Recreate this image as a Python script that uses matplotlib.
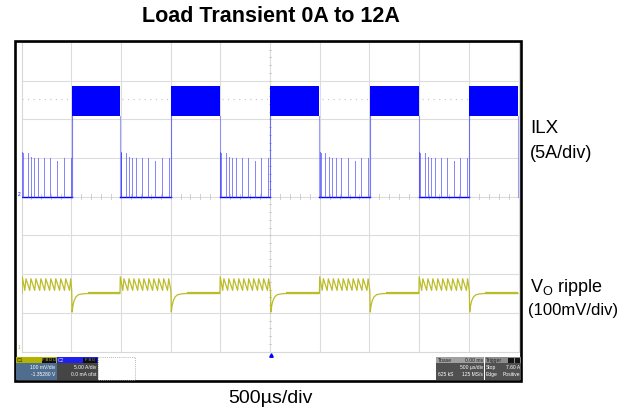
import numpy as np
import matplotlib
matplotlib.use('Agg')
import matplotlib.pyplot as plt
from matplotlib.patches import Rectangle

plt.rcParams['font.family'] = ['Liberation Sans', 'DejaVu Sans']

# ---------------- data ----------------
title = "Load Transient 0A to 12A"
time_label = "500µs/div"
time_per_div_us = 500
n_hdiv, n_vdiv = 10, 8

# load steps (µs, screen centre = 0)
load_rise_us = [-1995, -997, 5, 1004, 2005]
load_fall_us = [-2495, -1509, -504, 497, 1498, 2495]

# inductor current ILX (5 A/div, 0 A at screen centre)
ilx_a_per_div = 5.0
ilx_band_high_a = 14.3
ilx_band_low_a = 10.4
ilx_ref_level_a = 12.6
pulse_offsets_us = [5, 15, 58, 92, 125, 162, 218, 285, 355, 418, 488]
pulse_peaks_a = [5.8, 5.7, 5.6, 5.1, 5.0, 5.0, 5.0, 5.0, 4.6, 5.0, 5.0]

# output ripple Vo (100 mV/div, trace offset -2.5 div)
vo_mv_per_div = 100.0
vo_offset_div = -2.5
tooth_offsets_us = [0, 28, 78, 128, 178, 228, 278, 328, 378, 428, 478]
tooth_peak_mv = 38.0
tooth_trough_mv = 8.0
release_spike_mv = 43.0
recovery_offsets_us = [0, 4, 12, 25, 45, 70, 110, 160]
recovery_mv = [8, -48, -32, -18, -8, -3, -1, 0]

# status bar texts
c1_lines = ["100 mV/div", "-1.35280 V"]
c2_lines = ["5.00 A/div", "0.0 mA ofst"]
tb_lines = [("Tbase", "0.00 ms"), ("", "500 µs/div"), ("625 kS", "125 MS/s")]
trig_lines = [("Trigger", ""), ("Stop", "7.60 A"), ("Edge", "Positive")]

# ---------------- figure ----------------
W, H = 628, 415
fig = plt.figure(figsize=(W / 100, H / 100), dpi=100)

# screen geometry in pixels
sx0, sx1, sy0, sy1 = 21.5, 518.5, 42.0, 351.5
ax = fig.add_axes([sx0 / W, 1 - sy1 / H, (sx1 - sx0) / W, (sy1 - sy0) / H])
half_t = n_hdiv / 2 * time_per_div_us
ax.set_xlim(-half_t, half_t)
ax.set_ylim(-n_vdiv / 2, n_vdiv / 2)
ax.set_xticks([]); ax.set_yticks([])
for s in ax.spines.values():
    s.set_color('#d8d8d8'); s.set_linewidth(0.8)

gcol = '#dcdcdc'
for k in range(1, n_hdiv):
    ax.axvline(-half_t + k * time_per_div_us, color=gcol, lw=0.8, zorder=0)
for k in range(1, n_vdiv):
    ax.axhline(-n_vdiv / 2 + k, color=gcol, lw=0.8, zorder=0)
# minor ticks on centre lines
for t in np.arange(-half_t, half_t + 1, time_per_div_us / 5):
    ax.plot([t, t], [-0.06, 0.06], color='#c8c8c8', lw=0.6, zorder=0)
for v in np.arange(-n_vdiv / 2, n_vdiv / 2 + 0.01, 0.2):
    ax.plot([-15, 15], [v, v], color='#c8c8c8', lw=0.6, zorder=0)
# reference dotted level
ax.axhline(ilx_ref_level_a / ilx_a_per_div, color='#c4c4c4', lw=0.8,
           linestyle=(0, (1, 4)), zorder=0)

blue = '#0000ff'
# ---- ILX trace ----
for i, tr in enumerate(load_rise_us):
    tf = load_fall_us[i]
    # low-load region: baseline + PFM pulses
    ax.plot([max(tf, -half_t), tr], [0, 0], color=blue, lw=1.0, zorder=3)
    for off, pk in zip(pulse_offsets_us, pulse_peaks_a):
        tp = tf + off
        if tp < tr:
            ax.plot([tp, tp], [0, pk / ilx_a_per_div], color='#3030ff',
                    lw=0.7, alpha=0.6, zorder=3)
    # high-load region: ripple band
    tf2 = load_fall_us[i + 1]
    ax.fill_between([tr, tf2], [ilx_band_low_a / ilx_a_per_div] * 2,
                    [ilx_band_high_a / ilx_a_per_div] * 2, color=blue,
                    lw=0, zorder=3)
    ax.plot([tr, tr], [0, ilx_band_low_a / ilx_a_per_div], color='#4040ff',
            lw=0.8, alpha=0.7, zorder=3)
    ax.plot([tf2, tf2], [0, ilx_band_low_a / ilx_a_per_div], color='#6060ff',
            lw=0.8, alpha=0.6, zorder=3)

# ---- Vo trace ----
ycol = '#bcbc2a'
vt, vv = [], []
flat_segs = []
for i, tr in enumerate(load_rise_us):
    tf = load_fall_us[i]
    vt += [tf, tf + 3]
    vv += [0, release_spike_mv]
    for off in tooth_offsets_us[1:]:
        if tf + off + 12 < tr:
            vt += [tf + off, tf + off + 12]
            vv += [tooth_trough_mv, tooth_peak_mv]
    for off, mv in zip(recovery_offsets_us, recovery_mv):
        vt.append(tr + off); vv.append(mv)
    tf2 = load_fall_us[i + 1]
    vt.append(tf2); vv.append(0)
    flat_segs.append((tr + recovery_offsets_us[-1], tf2))
vt = np.array(vt, float)
vv = np.array(vv, float) / vo_mv_per_div + vo_offset_div
m = vt >= -half_t
ax.plot(vt[m], vv[m], color=ycol, lw=0.9, zorder=4)
for a, b in flat_segs:
    ax.plot([a, b], [vo_offset_div, vo_offset_div], color=ycol, lw=1.6,
            zorder=4, solid_capstyle='butt')

# ---------------- overlay (frame, labels, status bar) ----------------
ov = fig.add_axes([0, 0, 1, 1], zorder=5)
ov.set_xlim(0, W); ov.set_ylim(H, 0)
ov.axis('off')
ov.patch.set_alpha(0)

ov.add_patch(Rectangle((15, 41), 506, 340, fill=False, ec='black', lw=1.9))

ov.text(271, 17, title, ha='center', va='center', fontsize=15.5,
        fontweight='bold')
ov.text(270, 398, time_label, ha='center', va='center', fontsize=14)
ov.text(530, 128, "ILX", ha='left', va='center', fontsize=13.5)
ov.text(530, 153, "(5A/div)", ha='left', va='center', fontsize=13)
ov.text(530, 287, r"V$_\mathregular{O}$ ripple", ha='left', va='center',
        fontsize=13)
ov.text(528, 310, "(100mV/div)", ha='left', va='center', fontsize=12)

# trigger marker and channel markers
ov.plot([270.5], [354.5], marker='^', ms=2.5, color=blue, mec=blue)
ov.text(19, 194.5, "2", color=blue, fontsize=3.5, ha='center', va='center')
ov.text(18.5, 347, "1", color=ycol, fontsize=3.5, ha='center', va='center')

fs = 3.6
# C1 block
ov.add_patch(Rectangle((16, 357), 40.5, 6, color='#b2b200', lw=0))
ov.text(17, 360, "C1", fontsize=fs, color='#202000', va='center')
ov.add_patch(Rectangle((42, 357.5), 14, 5, color='#101010', lw=0))
ov.text(49, 360, "F B D U", fontsize=2.8, color='#c8c850', va='center', ha='center')
ov.add_patch(Rectangle((16, 363), 40.5, 16.5, color='#4e6d8f', lw=0))
for k, s in enumerate(c1_lines):
    ov.text(55.5, 367.3 + 7 * k, s, fontsize=fs, color='white', ha='right', va='center')
# C2 block
ov.add_patch(Rectangle((57, 357), 40.5, 6, color='#2020f0', lw=0))
ov.text(58, 360, "C2", fontsize=fs, color='#d0d0ff', va='center')
ov.add_patch(Rectangle((83, 357.5), 14, 5, color='#101010', lw=0))
ov.text(90, 360, "F B D", fontsize=2.8, color='#8080ff', va='center', ha='center')
ov.add_patch(Rectangle((57, 363), 40.5, 16.5, color='#454545', lw=0))
for k, s in enumerate(c2_lines):
    ov.text(96.5, 367.3 + 7 * k, s, fontsize=fs, color='white', ha='right', va='center')
# empty dotted box
ov.add_patch(Rectangle((98, 357), 37, 22.5, fill=False, ec='#9a9a9a', lw=0.6,
                       linestyle=(0, (1, 1.5))))
# timebase / trigger block
ov.add_patch(Rectangle((436, 357), 48, 6, color='#a0a0a0', lw=0))
ov.add_patch(Rectangle((484.5, 357), 36, 6, color='#8c8c8c', lw=0))
ov.add_patch(Rectangle((436, 363), 48, 16.5, color='#505050', lw=0))
ov.add_patch(Rectangle((484.5, 363), 36, 16.5, color='#505050', lw=0))
ov.add_patch(Rectangle((508, 357.5), 5.5, 5, color='#151515', lw=0))
ov.add_patch(Rectangle((514.5, 357.5), 5.5, 5, color='#151515', lw=0))
for k, (a, b) in enumerate(tb_lines):
    yk = 360 if k == 0 else 367.3 + 7 * (k - 1)
    c = '#202020' if k == 0 else 'white'
    ov.text(437.5, yk, a, fontsize=fs, color=c, va='center', ha='left')
    ov.text(483, yk, b, fontsize=fs, color=c, va='center', ha='right')
for k, (a, b) in enumerate(trig_lines):
    yk = 360 if k == 0 else 367.3 + 7 * (k - 1)
    c = '#202020' if k == 0 else 'white'
    ov.text(486, yk, a, fontsize=fs, color=c, va='center', ha='left')
    if b:
        ov.text(520, yk, b, fontsize=fs, color=c, va='center', ha='right')

fig.savefig('out.png', dpi=100)
